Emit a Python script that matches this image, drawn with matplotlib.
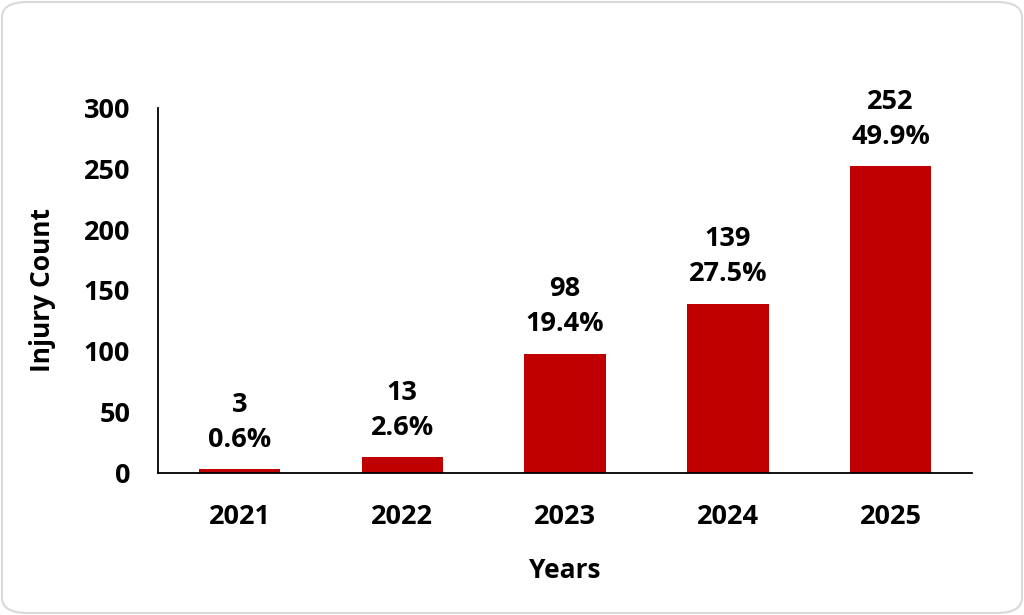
import matplotlib
matplotlib.use("Agg")
import matplotlib.pyplot as plt
from matplotlib.patches import FancyBboxPatch

years = ["2021", "2022", "2023", "2024", "2025"]
counts = [3, 13, 98, 139, 252]
percents = ["0.6%", "2.6%", "19.4%", "27.5%", "49.9%"]

plt.rcParams['font.family'] = ['Open Sans', 'DejaVu Sans']
plt.rcParams['font.weight'] = 'bold'

FS = 19.5

fig = plt.figure(figsize=(10.24, 6.15), dpi=100)
ax = fig.add_axes([158/1024, 1-473/615, (972-158)/1024, (473-108)/615])

x = range(len(years))
bars = ax.bar(x, counts, width=0.5, color="#C00000", zorder=2)

for xi, c, p in zip(x, counts, percents):
    ax.annotate(f"{c}\n{p}", xy=(xi, c), xytext=(0, 12), textcoords="offset points",
                ha="center", va="bottom", fontsize=FS, fontweight="bold",
                linespacing=1.45, color="black")

ax.set_xlim(-0.5, len(years) - 0.5)
ax.set_ylim(0, 300)
ax.set_yticks([0, 50, 100, 150, 200, 250, 300])
ax.set_xticks(list(x))
ax.set_xticklabels(years)
ax.tick_params(axis="both", length=0, labelsize=FS)
ax.tick_params(axis="y", pad=20)
ax.tick_params(axis="x", pad=22)
for lab in ax.get_xticklabels() + ax.get_yticklabels():
    lab.set_fontweight("bold")

for s in ["top", "right"]:
    ax.spines[s].set_visible(False)
ax.spines["left"].set_linewidth(1.3)
ax.spines["bottom"].set_linewidth(1.3)

ax.set_xlabel("Years", fontsize=19, fontweight="bold", labelpad=20)
ax.set_ylabel("Injury Count", fontsize=19, fontweight="bold", labelpad=20)

border = FancyBboxPatch((2/1024, 2/615), 1 - 4/1024, 1 - 4/615,
                        boxstyle="round,pad=0,rounding_size=0.025",
                        transform=fig.transFigure, fill=False,
                        edgecolor="#D9D9D9", linewidth=1.5)
fig.patches.append(border)

fig.savefig("out.png", dpi=100)
